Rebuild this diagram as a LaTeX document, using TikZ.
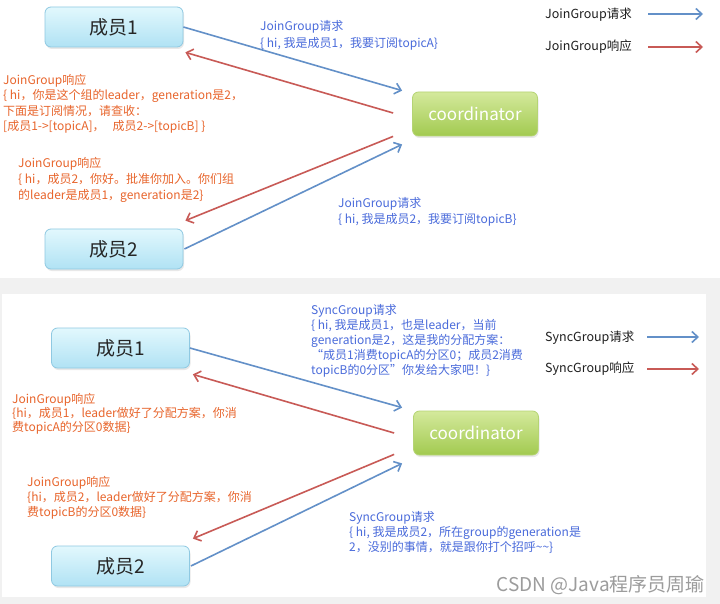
\documentclass[tikz,border=0pt]{standalone}
\usepackage{fontspec}
\setmainfont{Noto Sans CJK SC}
\usetikzlibrary{arrows.meta,calc,shadows}
\definecolor{bgc}{HTML}{F1F1F1}
\definecolor{reqblue}{HTML}{6390C8}
\definecolor{resred}{HTML}{C85A56}
\definecolor{txtblue}{HTML}{4A6BDB}
\definecolor{txtorange}{HTML}{E8652C}
\definecolor{boxtop}{HTML}{E2F8FD}
\definecolor{boxbot}{HTML}{B0E2F4}
\definecolor{boxline}{HTML}{8FC9E2}
\definecolor{cotop}{HTML}{D4E99C}
\definecolor{cobot}{HTML}{A2CA50}
\definecolor{coline}{HTML}{B5D474}
\definecolor{wmgray}{HTML}{9C9C9C}
\tikzset{
  member/.style={rounded corners=6pt, top color=boxtop, bottom color=boxbot,
    draw=boxline, line width=0.8pt, minimum width=138pt, minimum height=40pt,
    font=\fontsize{19}{19}\selectfont, text=black!85,
    drop shadow={opacity=0.18, shadow xshift=1pt, shadow yshift=-2pt}},
  coord/.style={rounded corners=6pt, top color=cotop, bottom color=cobot,
    draw=coline, line width=0.8pt, minimum width=125pt, minimum height=44pt,
    font=\fontsize{17}{17}\selectfont, text=white,
    drop shadow={opacity=0.18, shadow xshift=1pt, shadow yshift=-2pt}},
  req/.style={draw=reqblue, line width=1.6pt, -{Straight Barb[length=6pt,width=11pt]}},
  res/.style={draw=resred, line width=1.6pt, -{Straight Barb[length=6pt,width=11pt]}},
  lbl/.style={anchor=north west, align=left, inner sep=0pt},
  bluetxt/.style={lbl, text=txtblue},
  orangetxt/.style={lbl, text=txtorange},
  legtxt/.style={anchor=west, inner sep=0pt, text=black!88, font=\fontsize{12.5}{14}\selectfont},
}
\begin{document}
\begin{tikzpicture}[x=1pt, y=-1pt]
\useasboundingbox (0,0) rectangle (720,604);
\fill[bgc] (0,0) rectangle (720,604);
\fill[white] (0,0) rectangle (720,278);
\fill[white] (2,294) rectangle (706,597);

% ---------------- top panel ----------------
\node[member] (m1) at (114,27) {成员1};
\node[member] (m2) at (114,249) {成员2};
\node[coord] (c1) at (475,114) {coordinator};

\draw[req] (m1.east) -- ($(c1.north west)+(-10,-1)$);
\draw[res] ($(c1.west)+(-19,-1)$) -- ($(m1.south east)+(2,5)$);
\draw[res] ($(c1.south west)+(-19,0)$) -- ($(m2.north east)+(2,-8)$);
\draw[req] ($(m2.east)+(1,0)$) -- ($(c1.south west)+(-10,8)$);

\node[bluetxt, font=\fontsize{12}{17}\selectfont] (t1) at (260,20)
  {JoinGroup请求\\\{ hi,\ 我是成员1，我要订阅topicA\}};
\node[orangetxt, font=\fontsize{12}{15.4}\selectfont] (t2) at (3,74)
  {JoinGroup响应\\\{ hi，你是这个组的leader，generation是2，\\下面是订阅情况，请查收：\\{}[成员1->[topicA]，\ \ \ 成员2->[topicB] \}};
\node[orangetxt, font=\fontsize{12}{16}\selectfont] (t3) at (18,157)
  {JoinGroup响应\\\{ hi，成员2，你好。批准你加入。你们组\\的leader是成员1，generation是2\}};
\node[bluetxt, font=\fontsize{12}{16}\selectfont] (t4) at (338,197)
  {JoinGroup请求\\\{ hi,\ 我是成员2，我要订阅topicB\}};

\node[legtxt] (l1) at (545,15) {JoinGroup请求};
\node[legtxt] (l2) at (545,47) {JoinGroup响应};
\coordinate (l1a) at (648,14);
\coordinate (l1b) at (703,14);
\coordinate (l2a) at (648,47);
\coordinate (l2b) at (703,47);
\draw[req] (l1a) -- (l1b);
\draw[res] (l2a) -- (l2b);

% ---------------- bottom panel ----------------
\node[member] (m3) at (120.5,348) {成员1};
\node[member] (m4) at (120.5,566) {成员2};
\node[coord] (c2) at (476,433) {coordinator};

\draw[req] (m3.east) -- ($(c2.north west)+(-11,-3)$);
\draw[res] ($(c2.west)+(-19,0)$) -- ($(m3.south east)+(3,6)$);
\draw[res] ($(c2.south west)+(-19,-1)$) -- ($(m4.north east)+(3,-7)$);
\draw[req] ($(m4.east)+(1,0)$) -- ($(c2.south west)+(-11,8)$);

\node[bluetxt, font=\fontsize{12}{15}\selectfont] (t5) at (311,304)
  {SyncGroup请求\\\{ hi,\ 我是成员1，也是leader，当前\\generation是2，这是我的分配方案：\\“成员1消费topicA的分区0；成员2消费\\topicB的0分区”你发给大家吧！\}};
\node[orangetxt, font=\fontsize{12}{14.2}\selectfont] (t6) at (12,393)
  {JoinGroup响应\\\{hi，成员1，leader做好了分配方案，你消\\费topicA的分区0数据\}};
\node[orangetxt, font=\fontsize{12}{15}\selectfont] (t7) at (27,476)
  {JoinGroup响应\\\{hi，成员2，leader做好了分配方案，你消\\费topicB的分区0数据\}};
\node[bluetxt, font=\fontsize{12}{15}\selectfont] (t8) at (349,511)
  {SyncGroup请求\\\{ hi,\ 我是成员2，所在group的generation是\\2，没别的事情，就是跟你打个招呼\textasciitilde\textasciitilde\}};

\node[legtxt] (l3) at (545,338) {SyncGroup请求};
\node[legtxt] (l4) at (545,369) {SyncGroup响应};
\coordinate (l3a) at (647,337);
\coordinate (l3b) at (699,337);
\coordinate (l4a) at (647,369);
\coordinate (l4b) at (699,369);
\draw[req] (l3a) -- (l3b);
\draw[res] (l4a) -- (l4b);

\node[anchor=east, inner sep=0pt, text=wmgray, font=\fontsize{19}{19}\selectfont] (wm) at (705,585)
  {CSDN @Java程序员周瑜};
\end{tikzpicture}
\end{document}
